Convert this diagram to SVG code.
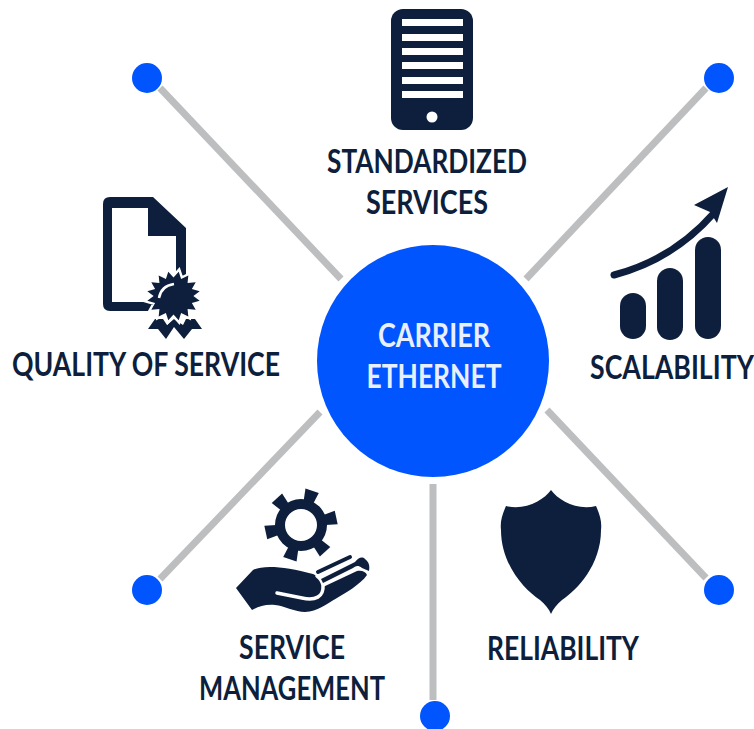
<svg xmlns="http://www.w3.org/2000/svg" width="754" height="729" viewBox="0 0 754 729">
<style>
.l{stroke:#bcbec0;stroke-width:7;fill:none}
.d{fill:#0055ff}
.i{fill:#0d1f3c}
.w{fill:#fff}
text{font-family:"Lato","Liberation Sans",sans-serif;font-weight:700;font-size:33px;text-anchor:middle;fill:#0d1f3c}
</style>
<rect width="754" height="729" fill="#fff"/>
<g id="connectors">
<path class="l" d="M160 88L341 279"/>
<path class="l" d="M706 88L526 279"/>
<path class="l" d="M320 412L160 579"/>
<path class="l" d="M547 410L706 578"/>
<path class="l" d="M433 484V700"/>
</g>
<g id="dots">
<circle class="d" cx="147" cy="78" r="15"/>
<circle class="d" cx="719" cy="78" r="15"/>
<circle class="d" cx="147" cy="590" r="15"/>
<circle class="d" cx="719" cy="590" r="15"/>
<circle class="d" cx="435" cy="716" r="15"/>
</g>
<g id="center">
<circle cx="433" cy="361" r="116" fill="#0055ff"/>
<text x="434" y="347" style="fill:#e8f0ff" textLength="112" lengthAdjust="spacingAndGlyphs">CARRIER</text>
<text x="434" y="388" style="fill:#e8f0ff" textLength="135" lengthAdjust="spacingAndGlyphs">ETHERNET</text>
</g>
<g id="standardized-services">
<rect class="i" x="391" y="9" width="82" height="121" rx="12"/>
<g class="w">
<rect x="402" y="19" width="61" height="7"/><rect x="402" y="34" width="61" height="7"/><rect x="402" y="48" width="61" height="7"/><rect x="402" y="62" width="61" height="7"/><rect x="402" y="77" width="61" height="7"/><rect x="402" y="91" width="61" height="7"/>
<circle cx="432" cy="117" r="5.5"/>
</g>
<text x="427" y="173" textLength="200" lengthAdjust="spacingAndGlyphs">STANDARDIZED</text>
<text x="427" y="214" textLength="122" lengthAdjust="spacingAndGlyphs">SERVICES</text>
</g>
<g id="quality-of-service">
<path class="i" fill-rule="evenodd" d="M110 197H153L186 228V311H110Q103 311 103 304V204Q103 197 110 197ZM112 208V302H176V236H148V208Z"/>
<polygon class="i" points="148,329 155,319 163,319 167,325 174,319 183,325 186,319 195,319 202,329 192,329 184,339 174,327 166,339 158,329"/>
<polygon class="i" transform="translate(173.5 296) scale(.97 .9)" stroke="#fff" stroke-width="5" paint-order="stroke" points="20.5,0 26.97,5.37 18.94,7.85 22.87,15.28 14.5,14.5 15.28,22.87 7.85,18.94 5.37,26.97 0,20.5 -5.37,26.97 -7.85,18.94 -15.28,22.87 -14.5,14.5 -22.87,15.28 -18.94,7.85 -26.97,5.37 -20.5,0 -26.97,-5.37 -18.94,-7.85 -22.87,-15.28 -14.5,-14.5 -15.28,-22.87 -7.85,-18.94 -5.37,-26.97 0,-20.5 5.37,-26.97 7.85,-18.94 15.28,-22.87 14.5,-14.5 22.87,-15.28 18.94,-7.85 26.97,-5.37"/>
<path d="M159 298Q161 286 174 284" fill="none" stroke="#fff" stroke-width="2.5"/>
<text x="146" y="376" textLength="268" lengthAdjust="spacingAndGlyphs">QUALITY OF SERVICE</text>
</g>
<g id="scalability">
<path d="M614 275C660 263 692 238 714 213" fill="none" stroke="#0d1f3c" stroke-width="7" stroke-linecap="round"/>
<polygon class="i" points="694,205 728,187 717,223 710,212"/>
<rect class="i" x="620" y="293" width="26" height="46" rx="13"/>
<rect class="i" x="657" y="268" width="26" height="72" rx="13"/>
<rect class="i" x="695" y="237" width="26" height="102" rx="13"/>
<text transform="translate(590 379) scale(.81 1)" style="text-anchor:start">SCALABILITY</text>
</g>
<g id="service-management">
<g class="i" transform="translate(301 525)">
<path fill-rule="evenodd" d="M0-26A26 26 0 1 1 0 26A26 26 0 1 1 0-26ZM0-16A16 16 0 1 0 0 16A16 16 0 1 0 0-16Z"/>
<path d="M-5-24L-7-36L7-36L5-24Z" transform="rotate(18)"/>
<path d="M-5-24L-7-36L7-36L5-24Z" transform="rotate(78)"/>
<path d="M-5-24L-7-36L7-36L5-24Z" transform="rotate(138)"/>
<path d="M-5-24L-7-36L7-36L5-24Z" transform="rotate(198)"/>
<path d="M-5-24L-7-36L7-36L5-24Z" transform="rotate(258)"/>
<path d="M-5-24L-7-36L7-36L5-24Z" transform="rotate(318)"/>
</g>
<path class="i" d="M236 588L253 570C262 565 285 566 313 574C320 577 323 582 323 587L357 571C362 570 366 572 367 575C360 585 345 593 337 598C325 605 318 611 305 612C295 612 285 606 275 605C265 604 258 607 252 610Z"/>
<path d="M277 593L302 598C315 601 324 597 323 585C322 581 320 578 317 576" fill="none" stroke="#fff" stroke-width="3.5" stroke-linecap="round"/>
<path d="M318 572L350 557" fill="none" stroke="#0d1f3c" stroke-width="4" stroke-linecap="round"/>
<path class="i" d="M321 579L355 562C358 558 362 556 365 559C369 562 370 566 369 571L362 568C358 565 356 566 353 568L323 583Z"/>
<text x="292" y="659" textLength="106" lengthAdjust="spacingAndGlyphs">SERVICE</text>
<text x="292" y="700" textLength="186" lengthAdjust="spacingAndGlyphs">MANAGEMENT</text>
</g>
<g id="reliability">
<path class="i" d="M551 490C544 500 525 511 506 506C502 515 500 522 501 530C501 565 525 590 540 600C545 604 549 609 551 614C553 609 557 604 562 600C577 590 601 565 601 530C602 522 600 515 596 506C577 511 558 500 551 490Z"/>
<text x="563" y="660" textLength="152" lengthAdjust="spacingAndGlyphs">RELIABILITY</text>
</g>
</svg>
